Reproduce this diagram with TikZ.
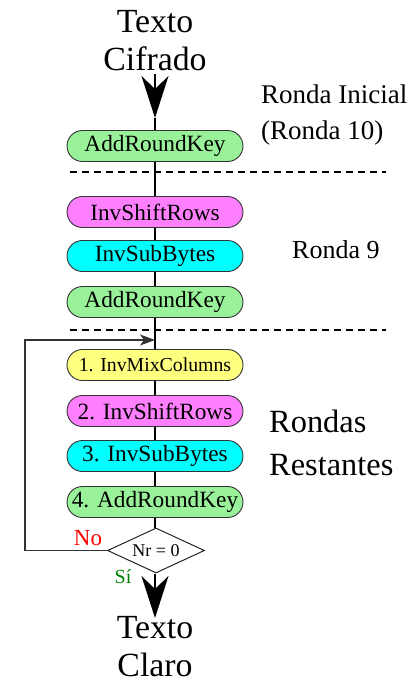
\documentclass[tikz,border=0pt]{standalone}
\usepackage{fontspec}
\setmainfont{Liberation Serif}
\usetikzlibrary{arrows.meta,shapes.geometric}
\definecolor{boxgreen}{RGB}{153,242,153}
\definecolor{boxmagenta}{RGB}{255,128,255}
\definecolor{boxcyan}{RGB}{0,255,255}
\definecolor{boxyellow}{RGB}{255,255,128}
\definecolor{nored}{RGB}{255,0,0}
\definecolor{sigreen}{RGB}{0,128,0}
\tikzset{
  pill/.style={draw=black!80, line width=0.9pt, rounded corners=15.5pt, minimum width=176pt, minimum height=31pt, inner sep=0pt, font=\fontsize{23.3}{26}\selectfont},
  bigtext/.style={align=center, font=\fontsize{33.8}{38}\selectfont, inner sep=0pt},
  sidetext/.style={align=left, font=\fontsize{27}{36}\selectfont, inner sep=0pt, anchor=west},
  axis/.style={line width=2pt},
  sep/.style={dashed, dash pattern=on 7pt off 5pt, line width=1.1pt},
  bigarrow/.style={line width=2pt, -{Stealth[length=42pt,width=27pt,inset=13pt]}},
  backarrow/.style={line width=1.3pt, black!80, -{Stealth[length=15pt,width=11pt,inset=4pt]}}
}
\begin{document}
\begin{tikzpicture}[x=1pt,y=-1pt]
\useasboundingbox (0,0) rectangle (419,683);
% texts
\node[bigtext] (cif) at (155,41) {Texto\\Cifrado};
\node[bigtext] (claro) at (155,647) {Texto\\Claro};
\node[sidetext] (r10) at (261,115) {Ronda Inicial\\(Ronda 10)};
\node[sidetext, font=\fontsize{26}{30}\selectfont] (r9) at (292,250) {Ronda 9};
\node[sidetext, font=\fontsize{32.4}{43}\selectfont] (rr) at (269,443) {Rondas\\Restantes};
% boxes
\node[pill, fill=boxgreen] (b1) at (155,146) {AddRoundKey};
\node[pill, fill=boxmagenta] (b2) at (155,212) {InvShiftRows};
\node[pill, fill=boxcyan] (b3) at (155,256) {InvSubBytes};
\node[pill, fill=boxgreen] (b4) at (155,302) {AddRoundKey};
\node[pill, fill=boxyellow, font=\fontsize{19.8}{22}\selectfont] (b5) at (155,365) {1. InvMixColumns};
\node[pill, fill=boxmagenta] (b6) at (155,411) {2. InvShiftRows};
\node[pill, fill=boxcyan] (b7) at (155,456) {3. InvSubBytes};
\node[pill, fill=boxgreen] (b8) at (155,502) {4. AddRoundKey};
\node[diamond, draw=black!85, line width=1pt, aspect=2.15, minimum width=97pt, minimum height=45pt, inner sep=0pt, font=\fontsize{18}{20}\selectfont] (d) at (156,550.5) {Nr = 0};
% coordinates
\coordinate (topstart) at (155,74);
\coordinate (toptip) at (155,118);
\coordinate (bottip) at (155,618);
\coordinate (fbl) at (25,550.5);
\coordinate (fbt) at (25,340);
\coordinate (fbtip) at (155,340);
\coordinate (s1a) at (70,172);
\coordinate (s1b) at (386,172);
\coordinate (s2a) at (70,330);
\coordinate (s2b) at (386,330);
% dashed separators
\draw[sep] (s1a) -- (s1b);
\draw[sep] (s2a) -- (s2b);
% axis
\draw[bigarrow] (topstart) -- (toptip);
\draw[axis] (toptip) -- (b1);
\draw[axis] (b1) -- (b2);
\draw[axis] (b2) -- (b3);
\draw[axis] (b3) -- (b4);
\draw[axis] (b4) -- (b5);
\draw[axis] (b5) -- (b6);
\draw[axis] (b6) -- (b7);
\draw[axis] (b7) -- (b8);
\draw[axis] (b8.south) -- (d.north -| b8.south);
\draw[bigarrow] (d.south -| b8.south) -- (bottip);
% feedback
\draw[backarrow] (d.west) -- (fbl) -- (fbt) -- (fbtip);
% labels
\node[text=nored, font=\fontsize{23}{26}\selectfont, inner sep=0pt] (no) at (88,538) {No};
\node[text=sigreen, font=\fontsize{20}{24}\selectfont, inner sep=0pt] (si) at (123,577) {Sí};
\end{tikzpicture}
\end{document}
